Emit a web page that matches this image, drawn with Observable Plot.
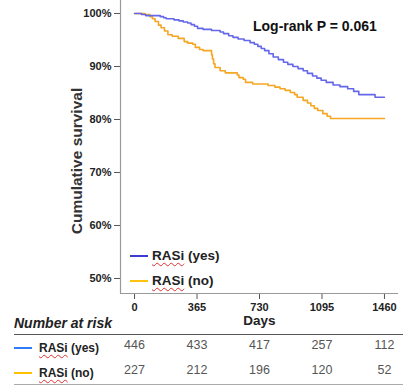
<!DOCTYPE html>
<html><head><meta charset="utf-8">
<script src="https://cdn.jsdelivr.net/npm/d3@7"></script>
<script src="https://cdn.jsdelivr.net/npm/@observablehq/plot@0.6"></script>
<style>
body{margin:0;background:#fff;font-family:"Liberation Sans",Arial,sans-serif;}
#wrap{position:relative;width:403px;height:385px;overflow:hidden;}
#wrap svg{position:absolute;left:0;top:0;}
.ov{position:absolute;white-space:nowrap;line-height:1;}
.sq{text-decoration:underline wavy #e03030;text-decoration-thickness:1px;text-underline-offset:2px;}
</style>
</head><body>
<div id="wrap"></div>
<script>
const blueDays = [0,40,65,150,170,185,230,260,285,310,330,350,368,400,450,500,520,550,575,605,640,675,700,720,740,760,785,810,840,870,895,925,955,985,1010,1040,1065,1090,1120,1160,1200,1245,1280,1310,1350,1405,1460];
const blueSurv = [1.000,0.998,0.996,0.994,0.992,0.990,0.988,0.986,0.984,0.982,0.979,0.976,0.972,0.970,0.968,0.965,0.962,0.958,0.955,0.952,0.949,0.945,0.942,0.938,0.934,0.930,0.924,0.918,0.913,0.908,0.904,0.900,0.896,0.892,0.887,0.882,0.878,0.874,0.870,0.865,0.862,0.858,0.853,0.847,0.847,0.842,0.842];
const orangeDays = [0,60,90,105,120,140,155,175,195,220,255,290,310,340,355,380,400,450,455,462,470,500,530,600,610,635,648,690,780,820,850,880,910,935,950,985,1010,1030,1050,1070,1100,1125,1145,1460];
const orangeSurv = [1.000,0.998,0.994,0.990,0.985,0.978,0.973,0.967,0.960,0.957,0.953,0.947,0.944,0.942,0.936,0.932,0.930,0.922,0.914,0.905,0.898,0.892,0.888,0.884,0.879,0.876,0.870,0.867,0.864,0.861,0.858,0.855,0.851,0.847,0.842,0.836,0.831,0.826,0.821,0.817,0.811,0.806,0.802,0.802];
const xTicks = [0,365,730,1095,1460];
const yTicks = [0.5,0.6,0.7,0.8,0.9,1.0];
const riskYes = [446,433,417,257,112];
const riskNo = [227,212,196,120,52];
const groups = ["RASi (yes)","RASi (no)"];

const blue = blueDays.map((d,i)=>({day:d, s:blueSurv[i]}));
const orange = orangeDays.map((d,i)=>({day:d, s:orangeSurv[i]}));
const rYes = xTicks.map((d,i)=>({day:d, n:riskYes[i]}));
const rNo = xTicks.map((d,i)=>({day:d, n:riskNo[i]}));
const xDomain = [-82,1542];
const yDomain = [0.4717,1.0245];

const plot = Plot.plot({
  width:403, height:385,
  marginLeft:120, marginRight:5, marginTop:0, marginBottom:92,
  style:{fontFamily:'"Liberation Sans",Arial,sans-serif', color:"#222", background:"transparent"},
  x:{domain:xDomain},
  y:{domain:yDomain},
  marks:[
    Plot.axisY({ticks:yTicks, tickFormat:d3.format(".0%"), tickSize:6, tickPadding:3, fontSize:11, fontWeight:"bold", label:null, stroke:"#555"}),
    Plot.axisX({ticks:xTicks, tickFormat:d=>String(d), tickSize:6, tickPadding:4, fontSize:11, fontWeight:"bold", label:null, stroke:"#555"}),
    Plot.ruleX([xDomain[0]], {stroke:"#999", strokeWidth:1.2}),
    Plot.ruleY([yDomain[0]], {stroke:"#999", strokeWidth:1.2}),
    Plot.line(orange, {x:"day", y:"s", curve:"step-after", stroke:"#f5a623", strokeWidth:1.6}),
    Plot.line(blue, {x:"day", y:"s", curve:"step-after", stroke:"#6468e8", strokeWidth:1.6}),
    Plot.text(["Days"], {x:(xDomain[0]+xDomain[1])/2, frameAnchor:"bottom", dy:31, fontSize:13.5, fontWeight:"bold", fill:"#222"}),
    Plot.text(rYes, {x:"day", text:"n", frameAnchor:"bottom", dy:55, fontSize:12.5, fill:"#555"}),
    Plot.text(rNo, {x:"day", text:"n", frameAnchor:"bottom", dy:80, fontSize:12.5, fill:"#555"})
  ]
});
const wrap = document.getElementById("wrap");
wrap.appendChild(plot);

function add(html, css){const d=document.createElement("div");d.className="ov";d.innerHTML=html;Object.assign(d.style,css);wrap.appendChild(d);return d;}
// y axis title
add("Cumulative survival",{left:"77px",top:"161px",transform:"translate(-50%,-50%) rotate(-90deg)",fontSize:"15.5px",fontWeight:"bold",color:"#333"});
// log-rank
add("Log-rank P = 0.061",{left:"253px",top:"19px",fontSize:"14px",fontWeight:"bold",color:"#111"});
// legend
const legColors=["#3c3cd0","#ffc20e"];
[256,281].forEach((y,i)=>{
  add("",{left:"130px",top:(y-1)+"px",width:"18px",height:"2px",background:legColors[i]});
  add('<span class="sq">RASi</span>'+groups[i].slice(4),{left:"152px",top:(y-7)+"px",fontSize:"13.5px",fontWeight:"bold",color:"#222"});
});
// risk table
add("Number at risk",{left:"14px",top:"316px",fontSize:"14px",fontWeight:"bold",fontStyle:"italic",color:"#222"});
add("",{left:"14px",top:"334px",width:"389px",height:"1px",background:"#555"});
add("",{left:"14px",top:"384px",width:"389px",height:"1px",background:"#aaa"});
const rowColors=["#2f7cf6","#ffc000"];
[348,373].forEach((y,i)=>{
  add("",{left:"14px",top:(y-1)+"px",width:"18px",height:"2px",background:rowColors[i]});
  add('<span class="sq">RASi</span>'+groups[i].slice(4),{left:"39px",top:(y-6)+"px",fontSize:"12px",fontWeight:"bold",color:"#222"});
});
</script>
</body></html>
